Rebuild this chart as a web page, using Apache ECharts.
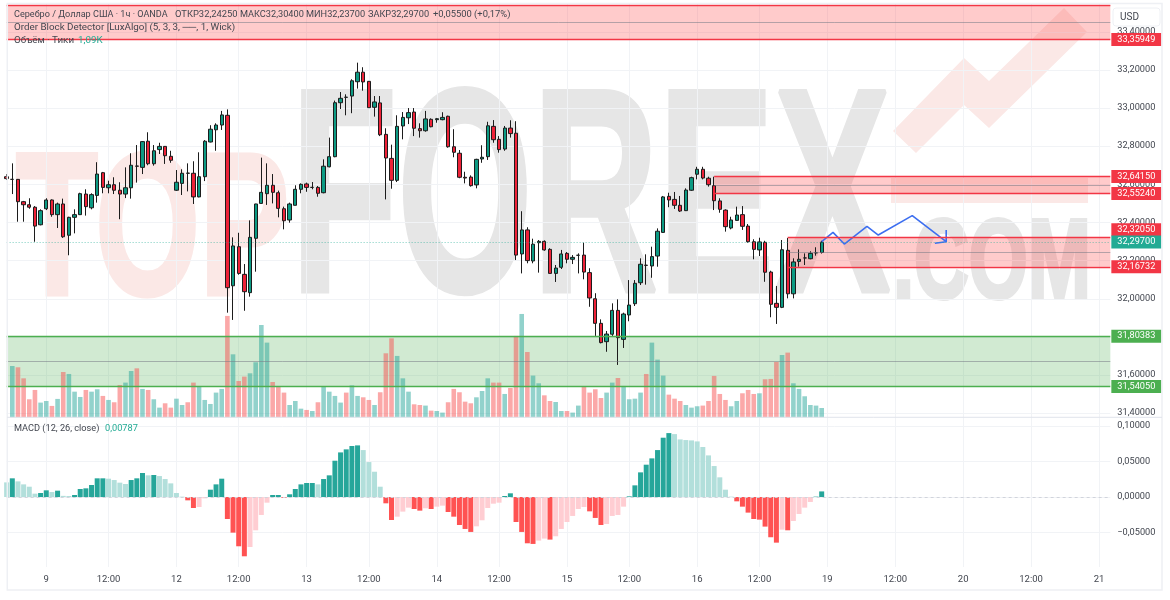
<!DOCTYPE html>
<html>
<head>
<meta charset="utf-8">
<title>Серебро / Доллар США</title>
<script src="https://cdn.jsdelivr.net/npm/echarts@6/dist/echarts.min.js"></script>
<style>
html,body{margin:0;padding:0;background:#fff}
#main{width:1170px;height:600px}
</style>
</head>
<body>
<div id="main"></div>
<script>
// open, close, low, high, one row per hour, first row is the bar cut off by the left edge
var candles = [
[32.640,32.630,32.623,32.654],
[32.626,32.626,32.549,32.710],[32.626,32.509,32.404,32.628],[32.509,32.493,32.404,32.513],[32.493,32.480,32.472,32.527],
[32.480,32.381,32.299,32.486],[32.388,32.462,32.385,32.469],[32.472,32.518,32.465,32.527],[32.518,32.441,32.430,32.521],
[32.441,32.497,32.371,32.504],[32.497,32.325,32.319,32.525],[32.333,32.427,32.228,32.430],[32.427,32.441,32.343,32.469],
[32.441,32.551,32.439,32.556],[32.549,32.483,32.436,32.574],[32.477,32.546,32.469,32.553],[32.542,32.654,32.504,32.716],
[32.661,32.584,32.553,32.665],[32.582,32.598,32.553,32.619],[32.598,32.569,32.549,32.637],[32.569,32.549,32.417,32.611],
[32.549,32.582,32.528,32.689],[32.582,32.700,32.525,32.763],[32.696,32.695,32.609,32.806],[32.689,32.824,32.654,32.827],
[32.826,32.708,32.700,32.873],[32.708,32.776,32.698,32.806],[32.782,32.799,32.759,32.818],[32.799,32.750,32.707,32.801],
[32.747,32.726,32.713,32.776],[32.569,32.611,32.565,32.675],[32.605,32.658,32.544,32.679],[32.659,32.658,32.563,32.710],
[32.658,32.534,32.497,32.721],[32.534,32.640,32.532,32.768],[32.640,32.826,32.617,32.832],[32.822,32.889,32.820,32.910],
[32.886,32.911,32.776,32.920],[32.911,32.964,32.885,32.985],[32.962,32.058,31.927,32.993],[32.068,32.277,31.889,32.322],
[32.273,32.133,32.126,32.346],[32.128,32.037,31.937,32.182],[32.032,32.322,32.011,32.411],[32.317,32.497,32.142,32.498],
[32.500,32.558,32.498,32.740],[32.551,32.595,32.492,32.710],[32.595,32.558,32.500,32.654],[32.556,32.474,32.427,32.567],
[32.472,32.409,32.364,32.483],[32.413,32.497,32.399,32.504],[32.490,32.574,32.490,32.595],[32.574,32.600,32.553,32.605],
[32.602,32.584,32.561,32.609],[32.584,32.584,32.574,32.612],[32.584,32.553,32.535,32.591],[32.556,32.695,32.553,32.731],
[32.692,32.745,32.689,32.845],[32.745,33.028,32.742,33.039],[33.028,33.051,32.995,33.084],[33.057,33.056,32.962,33.072],
[33.063,33.143,32.973,33.151],[33.138,33.188,33.102,33.238],[33.188,33.137,33.091,33.214],[33.140,33.002,33.002,33.142],
[33.004,33.032,32.955,33.063],[33.027,32.860,32.853,33.063],[32.862,32.738,32.521,32.894],[32.736,32.621,32.577,32.808],
[32.621,32.904,32.612,32.962],[32.906,32.951,32.836,32.979],[32.949,32.976,32.916,33.000],[32.979,32.894,32.853,33.000],
[32.892,32.881,32.845,32.920],[32.881,32.943,32.876,32.985],[32.941,32.902,32.899,32.946],[32.939,32.944,32.923,32.948],
[32.939,32.951,32.936,32.978],[32.957,32.797,32.792,32.960],[32.797,32.768,32.742,32.889],[32.763,32.637,32.632,32.780],
[32.637,32.633,32.605,32.666],[32.638,32.593,32.588,32.647],[32.597,32.731,32.579,32.734],[32.733,32.742,32.713,32.805],
[32.745,32.907,32.728,32.928],[32.904,32.834,32.818,32.937],[32.836,32.782,32.766,32.853],[32.785,32.895,32.776,32.906],
[32.895,32.866,32.845,32.936],[32.868,32.229,32.203,32.931],[32.235,32.361,32.133,32.459],[32.361,32.200,32.186,32.375],
[32.198,32.286,32.186,32.315],[32.294,32.301,32.137,32.308],[32.301,32.256,32.252,32.306],[32.259,32.133,32.133,32.265],
[32.133,32.161,32.088,32.177],[32.165,32.235,32.156,32.256],[32.238,32.207,32.186,32.245],[32.207,32.217,32.182,32.229],
[32.228,32.228,32.133,32.238],[32.229,32.140,32.102,32.294],[32.137,32.004,31.958,32.160],[32.000,31.871,31.805,32.029],
[31.871,31.770,31.766,31.892],[31.775,31.815,31.722,31.831],[31.814,31.939,31.805,31.976],[31.939,31.796,31.653,31.997],
[31.787,31.920,31.742,31.927],[31.915,31.967,31.882,32.098],[31.974,32.081,31.962,32.098],[32.084,32.181,32.072,32.212],
[32.176,32.175,32.074,32.233],[32.172,32.221,32.110,32.273],[32.224,32.354,32.168,32.369],[32.348,32.534,32.346,32.539],
[32.537,32.518,32.480,32.556],[32.521,32.490,32.471,32.560],[32.490,32.460,32.455,32.539],[32.462,32.570,32.460,32.579],
[32.569,32.635,32.565,32.640],[32.653,32.679,32.626,32.692],[32.679,32.633,32.626,32.692],[32.632,32.598,32.588,32.640],
[32.593,32.514,32.465,32.640],[32.513,32.469,32.451,32.527],[32.465,32.378,32.352,32.469],[32.371,32.413,32.364,32.430],
[32.411,32.439,32.409,32.483],[32.441,32.380,32.361,32.486],[32.381,32.299,32.294,32.392],[32.299,32.259,32.207,32.312],
[32.256,32.298,32.224,32.320],[32.296,32.139,32.089,32.304],[32.140,31.971,31.903,32.147],[31.976,31.955,31.868,32.067],
[31.955,32.257,31.951,32.308],[32.254,32.026,32.002,32.319],[32.026,32.193,32.002,32.212],[32.196,32.207,32.168,32.259],
[32.214,32.214,32.177,32.238],[32.210,32.238,32.207,32.249],[32.241,32.241,32.226,32.270],[32.2425,32.297,32.237,32.304]
];

// tick volume of the same hours
var volumes = [
6000,5850,4560,2110,3200,1720,1910,1330,2150,5300,5070,3000,2380,3200,3000,3280,2500,2030,1760,3780,4060,5420,5730,3320,
3200,2110,1130,1640,1130,2180,1440,1760,4060,3590,2030,1560,2890,3320,11860,7370,4250,4760,5150,6440,10800,8740,4130,3590,
2890,1440,1910,1010,860,740,1760,3590,3000,2500,1720,2890,3740,2500,2340,2030,1440,2930,7490,9240,7180,4560,3000,1520,
1440,1370,780,740,550,1760,3320,2930,1830,1640,2340,3080,4560,4060,4060,2730,3430,9520,12090,7640,4880,3980,2570,1910,
1790,740,740,550,1370,3590,2890,3280,2260,2890,4060,4600,3670,2110,2180,2890,5070,8740,6750,4880,2650,2180,1910,1440,
1130,1290,1370,1910,4840,2730,2030,1290,1910,2810,3200,2730,2810,4450,4490,6470,7290,7570,3980,3320,2460,1440,1370,1090
];

// MACD histogram, first value again for the cut-off bar
var macdHist = [
0.0206,
0.0263,0.0220,0.0178,0.0145,0.0047,0.0056,0.0094,0.0070,0.0089,0.0016,0.0014,0.0028,0.0113,0.0122,0.0169,0.0263,0.0263,
0.0258,0.0239,0.0202,0.0183,0.0239,0.0263,0.0338,0.0305,0.0310,0.0295,0.0253,0.0192,0.0056,0.0005,-0.0047,-0.0155,-0.0141,
-0.0019,0.0103,0.0178,0.0258,-0.0310,-0.0502,-0.0694,-0.0835,-0.0704,-0.0469,-0.0253,-0.0080,0.0028,0.0028,-0.0014,0.0038,
0.0113,0.0178,0.0197,0.0197,0.0178,0.0253,0.0305,0.0511,0.0628,0.0671,0.0718,0.0727,0.0661,0.0492,0.0356,0.0145,-0.0089,
-0.0324,-0.0277,-0.0206,-0.0150,-0.0169,-0.0192,-0.0159,-0.0169,-0.0136,-0.0122,-0.0211,-0.0277,-0.0394,-0.0450,-0.0492,
-0.0413,-0.0328,-0.0155,-0.0094,-0.0080,0.0014,0.0052,-0.0352,-0.0492,-0.0652,-0.0661,-0.0614,-0.0586,-0.0600,-0.0553,
-0.0450,-0.0352,-0.0267,-0.0169,-0.0141,-0.0202,-0.0295,-0.0394,-0.0380,-0.0267,-0.0253,-0.0136,0.0009,0.0164,0.0347,
0.0455,0.0544,0.0661,0.0835,0.0900,0.0886,0.0811,0.0802,0.0797,0.0783,0.0704,0.0586,0.0436,0.0277,0.0103,0.0005,-0.0061,
-0.0136,-0.0220,-0.0310,-0.0319,-0.0417,-0.0567,-0.0643,-0.0460,-0.0469,-0.0338,-0.0239,-0.0150,-0.0070,0.0005,0.00787
];

// time axis: slot of each label
var timeSlots = [7,18,30,41,53,64,76,87,99,110,122,133,145,157,169,181,193];
var timeLabels = ['9','12:00','12','12:00','13','12:00','14','12:00','15','12:00','16','12:00','19','12:00','20','12:00','21'];
var slotCount = 196;

var priceTicks = [33.4,33.2,33.0,32.8,32.6,32.4,32.2,32.0,31.8,31.6,31.4];
var macdTicks = [0.1,0.05,0,-0.05];

// order block zones: start slot, upper, middle, lower
var zoneStarts = [0,125,138,0];
var zoneTops = [33.5402,32.6415,32.3205,31.80383];
var zoneMids = [33.45,32.597,32.2439,31.672];
var zoneBottoms = [33.35949,32.5524,32.16732,31.5405];
var zoneIsGreen = [false,false,false,true];
var lastPrice = 32.297;

// hand drawn forecast
var arrowSlots = [144,146,148,152,154,160,166];
var arrowPrices = [32.299,32.348,32.287,32.380,32.334,32.436,32.299];
var headSlots = [166,166,164];
var headPrices = [32.361,32.299,32.291];

var RED = '#f23645', GREEN = '#4caf50', TEAL = '#22ab94', TEXT = '#42464f', GRID = '#f1f3f6';
var LEFT = 6.64, SLOT = 5.66;

var categories = [];
for (var i = 0; i < slotCount; i++) categories.push('');
for (var t = 0; t < timeSlots.length; t++) categories[timeSlots[t]] = timeLabels[t];

function fmt(v) { return v.toFixed(5).replace('.', ','); }
function tickFmt(v) { return (v < 0 ? '\u2212' : '') + fmt(Math.abs(v)); }
function isLabelled(index) { return categories[index] !== ''; }

// volume colour follows the candle, histogram colour follows the slope
var volumeData = ['-'];
for (var v = 0; v < volumes.length; v++) {
    var row = candles[v + 1];
    volumeData.push({ value: volumes[v], itemStyle: { color: row[1] >= row[0] ? 'rgba(38,166,154,0.5)' : 'rgba(247,82,82,0.5)' } });
}
var macdData = [];
for (var m = 0; m < macdHist.length; m++) {
    var h = macdHist[m], prev = m ? macdHist[m - 1] : 0.03, col;
    if (h >= 0) col = h >= prev ? '#26a69a' : '#b2dfdb';
    else col = h < prev ? '#ff5252' : '#ffcdd2';
    macdData.push({ value: h, itemStyle: { color: col } });
}

var areaData = [], lineData = [];
function tagLabel(color, offset) {
    return {
        show: true, position: 'end', formatter: '{b}', distance: 1, color: '#fff', backgroundColor: color,
        padding: [2, 6, 2, 6], fontFamily: 'Roboto', fontSize: 9.2, offset: offset || [0, 0]
    };
}
function edge(start, value, color, width, tag, offset) {
    var from = { xAxis: start, yAxis: value, name: tag || '', lineStyle: { color: color, width: width, type: 'solid' } };
    from.label = tag ? tagLabel(color, offset) : { show: false };
    lineData.push([from, { xAxis: slotCount - 1, yAxis: value }]);
}
for (var z = 0; z < zoneStarts.length; z++) {
    var zoneColor = zoneIsGreen[z] ? GREEN : RED;
    areaData.push([
        { xAxis: zoneStarts[z], yAxis: zoneTops[z], itemStyle: { color: zoneIsGreen[z] ? 'rgba(76,175,80,0.26)' : 'rgba(255,82,82,0.3)' } },
        { xAxis: slotCount - 1, yAxis: zoneBottoms[z] }
    ]);
    edge(zoneStarts[z], zoneMids[z], 'rgba(120,123,134,0.55)', 1);
    edge(zoneStarts[z], zoneTops[z], zoneColor, 1.4, z === 0 ? '' : fmt(zoneTops[z]), z === 2 ? [0, -8] : null);
    edge(zoneStarts[z], zoneBottoms[z], zoneColor, 1.4, fmt(zoneBottoms[z]));
}
lineData.push([
    { xAxis: 0, yAxis: lastPrice, name: fmt(lastPrice), lineStyle: { color: 'rgba(34,171,148,0.6)', width: 1, type: [1, 2] }, label: tagLabel(TEAL) },
    { xAxis: slotCount - 1, yAxis: lastPrice }
]);

function headText(x, y, text, size, color) {
    return { type: 'text', x: x, y: y, z: 30, silent: true, style: { text: text, fill: color || TEXT, font: size + 'px Roboto', verticalAlign: 'middle' } };
}
function mark(x, y, text, size, sx, color, thick) {
    return { type: 'text', x: x, y: y, z: -5, scaleX: sx, silent: true, style: { text: text, fill: color, stroke: color, lineWidth: thick, font: 'bold ' + size + 'px "Liberation Sans"', verticalAlign: 'bottom' } };
}

var myChart = echarts.init(document.getElementById('main'));
myChart.setOption({
    animation: false,
    textStyle: { fontFamily: 'Roboto' },
    grid: [
        { left: LEFT, top: 4, width: SLOT * (slotCount - 1), height: 413.3 },
        { left: LEFT, top: 417.3, width: SLOT * (slotCount - 1), height: 149.7 }
    ],
    xAxis: [
        { type: 'category', gridIndex: 0, data: categories, boundaryGap: false, axisLine: { show: false }, axisTick: { show: false },
          axisLabel: { show: false }, splitLine: { show: true, interval: isLabelled, lineStyle: { color: GRID } } },
        { type: 'category', gridIndex: 1, data: categories, boundaryGap: false, axisLine: { show: false }, axisTick: { show: false },
          axisLabel: { interval: isLabelled, color: TEXT, fontSize: 9.5, margin: 8 }, splitLine: { show: true, interval: isLabelled, lineStyle: { color: GRID } } }
    ],
    yAxis: [
        { type: 'value', gridIndex: 0, position: 'right', min: 31.3784, max: 33.5456, axisLine: { show: false },
          axisTick: { show: false, customValues: priceTicks }, axisLabel: { customValues: priceTicks, formatter: tickFmt, color: TEXT, fontSize: 9.2, margin: 7 },
          splitLine: { show: true, lineStyle: { color: GRID } } },
        { type: 'value', gridIndex: 0, position: 'right', show: false, min: 0, max: 48356, splitLine: { show: false } },
        { type: 'value', gridIndex: 1, position: 'right', min: -0.09859, max: 0.11225, axisLine: { show: false },
          axisTick: { show: false, customValues: macdTicks }, axisLabel: { customValues: macdTicks, formatter: tickFmt, color: TEXT, fontSize: 9.2, margin: 7 },
          splitLine: { show: true, lineStyle: { color: GRID } } }
    ],
    series: [
        { name: 'Объём', type: 'bar', xAxisIndex: 0, yAxisIndex: 1, z: 1, barWidth: 4.6, data: volumeData, silent: true },
        { name: 'Order Block Detector', type: 'line', xAxisIndex: 0, yAxisIndex: 0, z: 2, data: [], silent: true,
          markArea: { silent: true, data: areaData },
          markLine: { silent: true, symbol: 'none', animation: false, data: lineData } },
        { name: 'Серебро / Доллар США', type: 'candlestick', xAxisIndex: 0, yAxisIndex: 0, z: 3, barWidth: 3.8, data: candles,
          itemStyle: { color: '#0c9a83', color0: '#ee2238', borderColor: '#1c1c1c', borderColor0: '#1c1c1c', borderColorDoji: '#1c1c1c', borderWidth: 1 } },
        { name: 'Прогноз', type: 'line', xAxisIndex: 0, yAxisIndex: 0, z: 4, symbol: 'none', silent: true,
          lineStyle: { color: '#3d6ff0', width: 1.6 }, data: arrowSlots.map(function (s, i) { return [s, arrowPrices[i]]; }) },
        { name: 'Стрелка', type: 'line', xAxisIndex: 0, yAxisIndex: 0, z: 4, symbol: 'none', silent: true,
          lineStyle: { color: '#3d6ff0', width: 1.6 }, data: headSlots.map(function (s, i) { return [s, headPrices[i]]; }) },
        { name: 'MACD', type: 'bar', xAxisIndex: 1, yAxisIndex: 2, barWidth: 5, data: macdData, silent: true,
          markLine: { silent: true, symbol: 'none', label: { show: false }, lineStyle: { color: '#d1d4dc', type: [3, 3], width: 1 }, data: [{ yAxis: 0 }] } }
    ],
    graphic: { elements: [
        // watermark
        mark(16, 340, 'TOP', 203, 0.66, '#fbe8e6', 5),
        mark(291, 356, 'FOREX', 290, 0.6, '#e6e6e6', 5),
        mark(893, 324, '.COM', 114, 0.665, '#e6e6e6', 4),
        { type: 'polygon', z: -5, silent: true, shape: { points: [[1064,8],[1087,32],[989,128],[964,105],[916,153],[893,131],[964,58],[989,81]] }, style: { fill: '#fbe8e6' } },
        { type: 'rect', z: -5, silent: true, shape: { x: 891, y: 178, width: 197, height: 25 }, style: { fill: '#fbe8e6' } },
        // frame and pane separator
        { type: 'rect', z: 20, silent: true, shape: { x: 7.3, y: 3.5, width: 1154.7, height: 586.5 }, style: { fill: 'none', stroke: '#eef0f4', lineWidth: 1.5 } },
        { type: 'line', z: 20, silent: true, shape: { x1: 7.3, y1: 417.3, x2: 1162, y2: 417.3 }, style: { stroke: '#e0e3eb', lineWidth: 1 } },
        // currency box
        { type: 'rect', z: 30, silent: true, shape: { x: 1113, y: 8, width: 47, height: 18, r: 3 }, style: { fill: '#fff', stroke: '#eef0f4' } },
        { type: 'text', z: 31, x: 1120, y: 17, silent: true, style: { text: 'USD', fill: TEXT, font: '10px Roboto', verticalAlign: 'middle' } },
        // legend lines
        headText(14, 15, 'Серебро / Доллар США · 1ч · OANDA', 9.1),
        headText(175, 15, 'ОТКР32,24250', 9.4),
        headText(240, 15, 'МАКС32,30400', 9.2),
        headText(306, 15, 'МИН32,23700', 9.2),
        headText(368, 15, 'ЗАКР32,29700', 9.2),
        headText(433, 15, '+0,05500 (+0,17%)', 9.4),
        headText(14, 28, 'Order Block Detector [LuxAlgo] (5, 3, 3, ──, 1, Wick)', 9.8),
        headText(14, 41, 'Объём · Тики', 9.8),
        headText(78, 41, '1,09K', 9.8, TEAL),
        headText(14, 429, 'MACD (12, 26, close)', 9.2),
        headText(105, 429, '0,00787', 9.2, TEAL)
    ] }
});
</script>
</body>
</html>
